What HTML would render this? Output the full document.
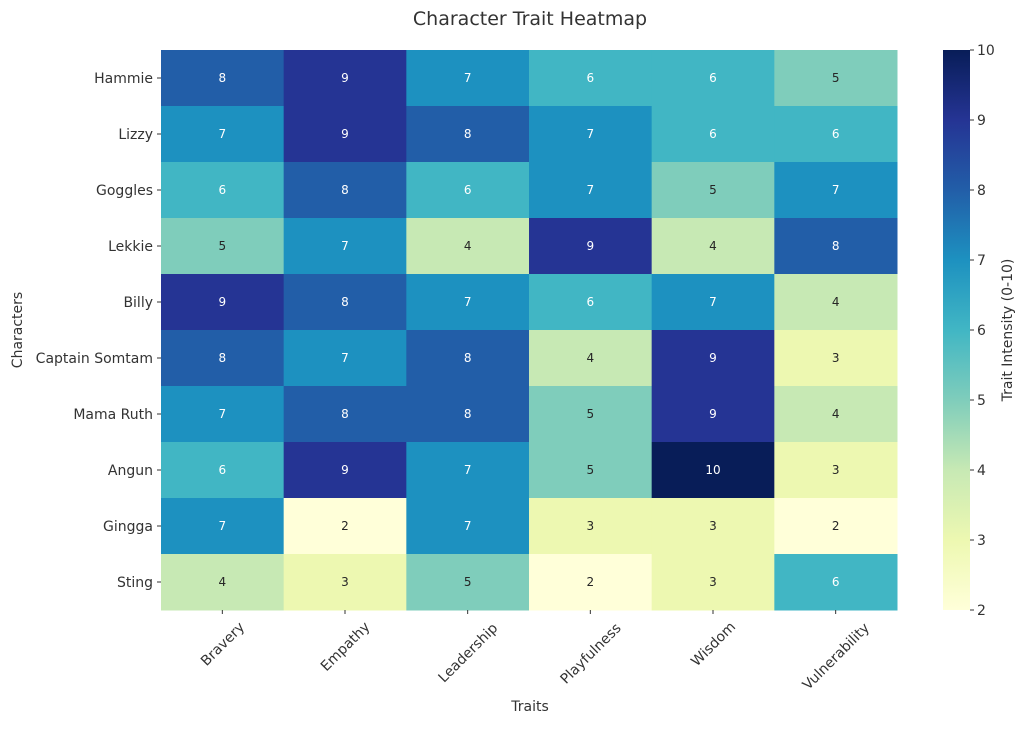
<!DOCTYPE html>
<html><head><meta charset="utf-8"><style>
body{margin:0;background:#fff;}
svg text{font-family:"DejaVu Sans","Liberation Sans",sans-serif;fill:#333;}
</style></head><body>
<svg width="1024" height="724" xmlns="http://www.w3.org/2000/svg">
<defs>
<linearGradient id="cb" x1="0" y1="1" x2="0" y2="0">
<stop offset="0" stop-color="#ffffd9"/><stop offset="0.125" stop-color="#edf8b1"/>
<stop offset="0.25" stop-color="#c7e9b4"/><stop offset="0.375" stop-color="#7fcdbb"/>
<stop offset="0.5" stop-color="#41b6c4"/><stop offset="0.625" stop-color="#1d91c0"/>
<stop offset="0.75" stop-color="#225ea8"/><stop offset="0.875" stop-color="#253494"/>
<stop offset="1" stop-color="#081d58"/>
</linearGradient>
</defs>
<text x="530" y="25" font-size="19" text-anchor="middle">Character Trait Heatmap</text>
<g id="cells"></g>
<rect x="943" y="50" width="27" height="560" fill="url(#cb)"/>
<g id="cbt"></g>
<g id="lbl"></g>
<text x="530" y="711" font-size="14" text-anchor="middle">Traits</text>
<text transform="translate(22,330) rotate(-90)" font-size="14" text-anchor="middle">Characters</text>
<text transform="translate(1012,330) rotate(-90)" font-size="14" text-anchor="middle">Trait Intensity (0-10)</text>
</svg>
<script>
const ns="http://www.w3.org/2000/svg";
const cols=["#ffffd9","#edf8b1","#c7e9b4","#7fcdbb","#41b6c4","#1d91c0","#225ea8","#253494","#081d58"];
const names=["Hammie","Lizzy","Goggles","Lekkie","Billy","Captain Somtam","Mama Ruth","Angun","Gingga","Sting"];
const traits=["Bravery","Empathy","Leadership","Playfulness","Wisdom","Vulnerability"];
const tw=[53,60,78,80,53,88];
const d=[[8,9,7,6,6,5],[7,9,8,7,6,6],[6,8,6,7,5,7],[5,7,4,9,4,8],[9,8,7,6,7,4],[8,7,8,4,9,3],[7,8,8,5,9,4],[6,9,7,5,10,3],[7,2,7,3,3,2],[4,3,5,2,3,6]];
const X0=161,Y0=50,CW=(897-161)/6,RH=56;
function el(t,a,txt,p){const e=document.createElementNS(ns,t);for(const k in a)e.setAttribute(k,a[k]);if(txt!=null)e.textContent=txt;(p||document.querySelector('svg')).appendChild(e);return e;}
const g=document.getElementById('cells');
d.forEach((r,i)=>r.forEach((v,j)=>{
 el('rect',{x:X0+j*CW,y:Y0+i*RH,width:CW+0.5,height:RH+0.5,fill:cols[v-2]},null,g);
 const t=el('text',{x:X0+(j+0.5)*CW,y:Y0+(i+0.5)*RH+4,'font-size':12,'text-anchor':'middle'},v,g);
 t.style.fill=v>=6?'#fff':'#262626';
}));
const L=document.getElementById('lbl');
names.forEach((n,i)=>{const y=Y0+(i+0.5)*RH;
 el('line',{x1:X0-4,x2:X0,y1:y,y2:y,stroke:'#333'},null,L);
 el('text',{x:X0-8,y:y+5,'font-size':14,'text-anchor':'end'},n,L);});
traits.forEach((n,j)=>{const x=X0+(j+0.5)*CW;
 el('line',{x1:x,x2:x,y1:610,y2:614,stroke:'#333'},null,L);
 const cy=620+(tw[j]+14)*0.707/2;
 el('text',{x:x,y:cy+5,'font-size':14,'text-anchor':'middle',transform:`rotate(-45 ${x} ${cy})`},n,L);});
const C=document.getElementById('cbt');
for(let v=2;v<=10;v++){const y=610-(v-2)*70;
 el('line',{x1:970,x2:974,y1:y,y2:y,stroke:'#333'},null,C);
 el('text',{x:977,y:y+5,'font-size':14},v,C);}
</script>
</body></html>
